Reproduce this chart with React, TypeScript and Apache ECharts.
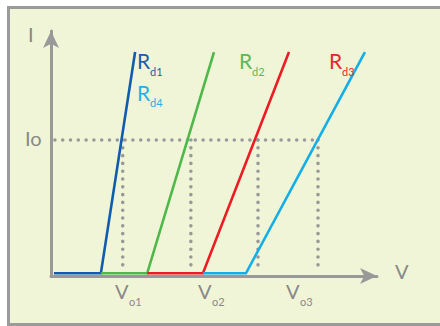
import React, { useEffect, useRef } from "react";
import * as echarts from "echarts";

// Diode I-V characteristics (abstract units: V on x 0..10, I on y 0..10)
const rd1: number[][] = [[0.09, 0.11], [1.53, 0.11], [2.58, 9.14]];
const rd2: number[][] = [[1.53, 0.11], [2.95, 0.11], [5.0, 9.14]];
const rd3: number[][] = [[2.95, 0.11], [4.66, 0.11], [7.3, 9.14]];
const rd4: number[][] = [[4.66, 0.11], [5.98, 0.11], [9.63, 9.14]];
const ioLevel = 5.55;
const ioStart = 0.12;
const voMarks: number[] = [2.2, 4.29, 6.35, 8.19];
const dropBottom = 0.2;

const FONT = "Lato, 'Open Sans', sans-serif";
const GREY = "#999999";
const LABEL_GREY = "#888888";

export default function App() {
  const ref = useRef<HTMLDivElement>(null);
  useEffect(() => {
    if (!ref.current) return;
    const chart = echarts.init(ref.current, undefined, { renderer: "svg" });
    const dotted = {
      color: GREY,
      width: 3.6,
      type: [0, 7.8] as number[],
      cap: "round" as const,
    };
    const curve = (data: number[][], color: string) => ({
      type: "line" as const,
      data,
      symbol: "none",
      silent: true,
      clip: false,
      z: 5,
      lineStyle: { color, width: 2.6, cap: "butt" as const, join: "miter" as const },
    });
    const txt = (
      text: string,
      x: number,
      y: number,
      size: number,
      fill: string
    ) => ({
      type: "text" as const,
      x,
      y,
      z: 20,
      silent: true,
      style: {
        text,
        fill,
        fontSize: size,
        fontFamily: FONT,
        verticalAlign: "middle",
        align: "left",
      },
    });
    const series: any[] = [
      {
        type: "line",
        data: [[ioStart, ioLevel], [voMarks[voMarks.length - 1], ioLevel]],
        symbol: "none",
        silent: true,
        z: 3,
        lineStyle: dotted,
      },
      ...voMarks.map((v) => ({
        type: "line",
        data: [[v, ioLevel], [v, dropBottom]],
        symbol: "none",
        silent: true,
        z: 3,
        lineStyle: dotted,
      })),
      curve(rd1, "#0f5cb0"),
      curve(rd2, "#4fb84b"),
      curve(rd3, "#ec1c24"),
      curve(rd4, "#12aee8"),
    ];
    const axisCommon = {
      type: "value" as const,
      min: 0,
      max: 10,
      axisLine: {
        show: true,
        symbol: ["none", "arrow"],
        symbolSize: [12, 17],
        lineStyle: { color: GREY, width: 3 },
      },
      axisTick: { show: false },
      axisLabel: { show: false },
      splitLine: { show: false },
    };
    chart.setOption({
      animation: false,
      backgroundColor: "#ffffff",
      grid: { left: 51, top: 31, right: 63, bottom: 50, containLabel: false },
      xAxis: { ...axisCommon, z: 4 },
      yAxis: { ...axisCommon, z: 4 },
      graphic: [
        {
          type: "rect",
          z: -10,
          silent: true,
          shape: { x: 8.5, y: 7.5, width: 470, height: 317 },
          style: { fill: "#f1f5d7", stroke: "#9b9b9b", lineWidth: 3 },
        },
        txt("I", 28, 34, 20, LABEL_GREY),
        txt("Io", 25, 138, 20, LABEL_GREY),
        txt("V", 395, 271, 20, LABEL_GREY),
        txt("V", 115, 291, 20, LABEL_GREY),
        txt("o1", 129, 301, 11, LABEL_GREY),
        txt("V", 198, 291, 20, LABEL_GREY),
        txt("o2", 212, 301, 11, LABEL_GREY),
        txt("V", 286, 291, 20, LABEL_GREY),
        txt("o3", 300, 301, 11, LABEL_GREY),
        txt("R", 137, 60, 21, "#1a5ea8"),
        txt("d1", 150, 71, 11, "#1a5ea8"),
        txt("R", 137, 92, 21, "#2aaee4"),
        txt("d4", 150, 102, 11, "#2aaee4"),
        txt("R", 239, 60, 21, "#5cb85a"),
        txt("d2", 252, 71, 11, "#5cb85a"),
        txt("R", 329, 60, 21, "#e8262d"),
        txt("d3", 342, 71, 11, "#e8262d"),
      ],
      series,
    });
    return () => chart.dispose();
  }, []);
  return (
    <div
      ref={ref}
      style={{ position: "absolute", left: 0, top: 0, width: 440, height: 326 }}
    />
  );
}
